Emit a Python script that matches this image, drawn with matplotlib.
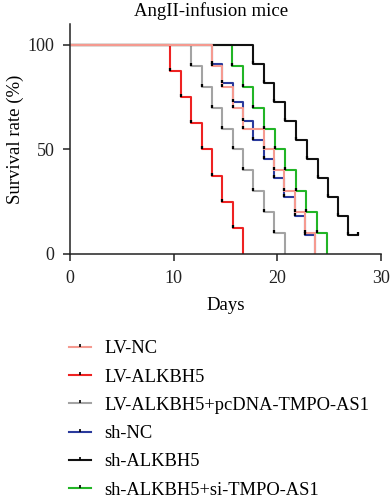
import matplotlib
matplotlib.use('Agg')
import matplotlib.pyplot as plt
from matplotlib.lines import Line2D

plt.rcParams['font.family'] = ['Liberation Serif', 'DejaVu Serif']

labels = ['LV-NC', 'LV-ALKBH5', 'LV-ALKBH5+pcDNA-TMPO-AS1',
          'sh-NC', 'sh-ALKBH5', 'sh-ALKBH5+si-TMPO-AS1']
colors = ['#f59a90', '#ee2222', '#a3a3a3', '#2a3a9c', '#111111', '#22b526']

# death days and survival (%) after each death
lvnc_days = [13.7, 14.7, 15.7, 16.7, 18.7, 19.7, 20.7, 21.7, 22.7, 23.7]
lvnc_surv = [90, 80, 70, 60, 50, 40, 30, 20, 10, 0]
lvalk_days = [9.7, 10.7, 11.7, 12.7, 13.7, 14.7, 15.7, 16.7]
lvalk_surv = [87.5, 75, 62.5, 50, 37.5, 25, 12.5, 0]
lvpc_days = [11.7, 12.7, 13.7, 14.7, 15.7, 16.7, 17.7, 18.7, 19.7, 20.75]
lvpc_surv = [90, 80, 70, 60, 50, 40, 30, 20, 10, 0]
shnc_days = [13.7, 14.7, 15.7, 16.7, 17.7, 18.7, 19.7, 20.7, 21.7, 22.7, 23.7]
shnc_surv = [90.9, 81.8, 72.7, 63.6, 54.5, 45.5, 36.4, 27.3, 18.2, 9.1, 0]
shalk_days = [17.7, 18.7, 19.7, 20.75, 21.85, 22.9, 23.9, 24.9, 25.9, 26.85, 27.8]
shalk_surv = [90.9, 81.8, 72.7, 63.6, 54.5, 45.5, 36.4, 27.3, 18.2, 9.1, 9.1]
shsi_days = [15.65, 16.7, 17.7, 18.7, 19.75, 20.8, 21.8, 22.8, 23.8, 24.8]
shsi_surv = [90, 80, 70, 60, 50, 40, 30, 20, 10, 0]

series = [(lvnc_days, lvnc_surv), (lvalk_days, lvalk_surv), (lvpc_days, lvpc_surv),
          (shnc_days, shnc_surv), (shalk_days, shalk_surv), (shsi_days, shsi_surv)]
order = [1, 2, 5, 3, 4, 0]  # drawing order, LV-NC on top

tick = [(0, 0), (0, 1)]  # small upward tick mark

fig = plt.figure(figsize=(3.9, 5.0), dpi=100)
ax = fig.add_axes([0.1795, 0.492, 0.7967, 0.46])

for k, i in enumerate(order):
    d, s = series[i]
    ax.step([0] + d, [100] + s, where='post', color=colors[i], lw=1.5, zorder=2 + k * 0.1)
    md = [x for x, y in zip(d, s) if y > 0]
    ms = [y for y in s if y > 0]
    ax.plot(md, ms, ls='none', marker=tick, ms=5, mec='black', mew=1.6, zorder=4)

ax.set_xlim(0, 30)
ax.set_ylim(0, 110)
ax.set_xticks([0, 10, 20, 30])
ax.set_yticks([0, 50, 100])
ax.spines['top'].set_visible(False)
ax.spines['right'].set_visible(False)
for sp in ['left', 'bottom']:
    ax.spines[sp].set_linewidth(1.1)
    ax.spines[sp].set_color('#222222')
ax.tick_params(direction='out', length=5, width=1.1, labelsize=13, colors='#222222')
ax.tick_params(axis='x', pad=6.5)
ax.tick_params(axis='y', pad=6)
ax.set_title('AngII-infusion mice', fontsize=13.5, pad=6, x=0.454)
ax.set_xlabel('Days', fontsize=13.5, labelpad=7)
ax.set_ylabel('Survival rate (%)', fontsize=13.5, labelpad=3)

handles = [Line2D([], [], color=c, lw=1.5, marker=tick, ms=5, mec='black', mew=1.2)
           for c in colors]
fig.legend(handles, labels, loc='upper left', bbox_to_anchor=(0.157, 0.334),
           frameon=False, fontsize=13.3, handlelength=1.2, handletextpad=0.75,
           labelspacing=0.61, borderaxespad=0)

fig.savefig('out.png', dpi=100)
